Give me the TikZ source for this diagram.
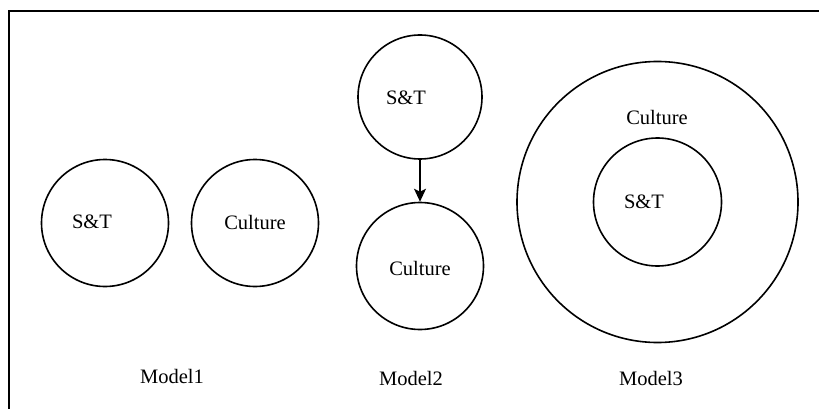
\documentclass[tikz,border=0pt]{standalone}
\usepackage{fontspec}
\setmainfont{Liberation Serif}
\usetikzlibrary{arrows.meta}
\begin{document}
\begin{tikzpicture}[x=1pt,y=-1pt,
  circ/.style={draw,circle,line width=1.6pt,inner sep=0pt},
  lbl/.style={font=\fontsize{20.5}{24}\selectfont,inner sep=0pt},
  frame/.style={line width=2.4pt}]
\useasboundingbox (0,0) rectangle (819,409);
% frame
\coordinate (ftr) at (819,11);
\coordinate (ftl) at (9,11);
\coordinate (fbl) at (9,409);
\draw[frame] (ftr) -- (ftl) -- (fbl);
% Model 1
\node[circ,minimum size=127pt] (m1s) at (105,223) {};
\node[lbl] (m1st) at (92,222) {S\&T};
\node[circ,minimum size=127pt] (m1c) at (255,223) {};
\node[lbl] (m1ct) at (255,222) {Culture};
\node[lbl] (m1) at (172,376) {Model1};
% Model 2
\node[circ,minimum size=124pt] (m2s) at (420,97) {};
\node[lbl] (m2st) at (406,98) {S\&T};
\node[circ,minimum size=127pt] (m2c) at (420,266) {};
\node[lbl] (m2ct) at (420,268) {Culture};
\draw[line width=1.4pt,-{Stealth[length=13pt,width=12pt,inset=3pt]}] (m2s) -- (m2c);
\node[lbl] (m2) at (411,378) {Model2};
% Model 3
\node[circ,minimum size=281pt] (m3o) at (657.5,202) {};
\node[circ,minimum size=128pt] (m3i) at (657.5,202) {};
\node[lbl] (m3ct) at (657,117) {Culture};
\node[lbl] (m3st) at (644,202) {S\&T};
\node[lbl] (m3) at (651,378) {Model3};
\end{tikzpicture}
\end{document}
